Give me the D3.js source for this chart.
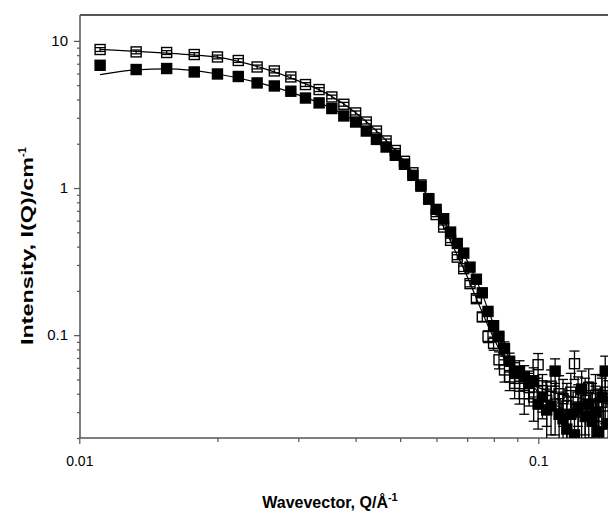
<!DOCTYPE html>
<html>
<head>
<meta charset="utf-8">
<script src="https://cdn.jsdelivr.net/npm/d3@7"></script>
<style>
  body { margin: 0; background: #fff; }
  svg { display: block; font-family: "Liberation Sans", Arial, sans-serif; }
</style>
</head>
<body>
<svg id="chart" width="608" height="511"></svg>
<script>
// wavevector grid (1/A)
const qValues = [0.0111, 0.0133, 0.0155, 0.0178, 0.0200, 0.0222, 0.0244, 0.0266, 0.0289, 0.0311,
  0.0333, 0.0355, 0.0377, 0.0400, 0.0422, 0.0444, 0.0466, 0.0488, 0.0511, 0.0533,
  0.0555, 0.0577, 0.0599, 0.0622, 0.0644, 0.0666, 0.0688, 0.0710, 0.0733, 0.0755,
  0.0777, 0.0799, 0.0821, 0.0844, 0.0866, 0.0888, 0.0910, 0.0932, 0.0955, 0.0977,
  0.0999, 0.1021, 0.1043, 0.1066, 0.1088, 0.1110, 0.1132, 0.1154, 0.1177, 0.1199,
  0.1221, 0.1243, 0.1265, 0.1288, 0.1310, 0.1332, 0.1354, 0.1376, 0.1399, 0.1421];

// open squares
const openI = [8.74, 8.42, 8.34, 8.08, 7.78, 7.36, 6.65, 6.25, 5.69, 5.05,
  4.67, 4.16, 3.71, 3.24, 2.81, 2.44, 2.09, 1.80, 1.52, 1.27,
  1.05, 0.84, 0.66, 0.543, 0.441, 0.339, 0.283, 0.224, 0.177, 0.133,
  0.098, 0.088, 0.068, 0.058, 0.052, 0.047, 0.045, 0.040, 0.044, 0.038,
  0.063, 0.042, 0.036, 0.045, 0.034, 0.040, 0.037, 0.033, 0.041, 0.064,
  0.038, 0.030, 0.036, 0.044, 0.032, 0.039, 0.028, 0.035, 0.041, 0.033];
const openErr = [0.26, 0.25, 0.25, 0.24, 0.23, 0.22, 0.2, 0.19, 0.17, 0.15,
  0.14, 0.12, 0.11, 0.1, 0.085, 0.073, 0.063, 0.054, 0.046, 0.038,
  0.032, 0.026, 0.021, 0.018, 0.015, 0.013, 0.012, 0.011, 0.01, 0.009,
  0.009, 0.009, 0.009, 0.01, 0.01, 0.01, 0.011, 0.011, 0.011, 0.012,
  0.012, 0.012, 0.012, 0.013, 0.013, 0.013, 0.013, 0.014, 0.014, 0.014,
  0.014, 0.014, 0.015, 0.015, 0.015, 0.015, 0.015, 0.016, 0.016, 0.016];

// filled squares
const filledI = [6.83, 6.39, 6.49, 6.15, 5.96, 5.73, 5.18, 4.94, 4.55, 4.09,
  3.79, 3.47, 3.09, 2.81, 2.44, 2.14, 1.90, 1.67, 1.45, 1.22,
  1.03, 0.847, 0.716, 0.619, 0.502, 0.420, 0.361, 0.290, 0.240, 0.194,
  0.145, 0.116, 0.098, 0.081, 0.0665, 0.056, 0.057, 0.052, 0.047, 0.049,
  0.034, 0.038, 0.031, 0.033, 0.057, 0.029, 0.027, 0.023, 0.029, 0.021,
  0.032, 0.043, 0.028, 0.034, 0.026, 0.030, 0.022, 0.038, 0.057, 0.025];
const filledErr = [0.2, 0.19, 0.19, 0.18, 0.18, 0.17, 0.16, 0.15, 0.14, 0.12,
  0.11, 0.1, 0.09, 0.085, 0.073, 0.064, 0.057, 0.05, 0.044, 0.037,
  0.031, 0.025, 0.021, 0.019, 0.015, 0.013, 0.011, 0.01, 0.009, 0.008,
  0.008, 0.008, 0.008, 0.009, 0.009, 0.009, 0.01, 0.01, 0.01, 0.011,
  0.011, 0.011, 0.012, 0.012, 0.012, 0.012, 0.013, 0.013, 0.013, 0.013,
  0.014, 0.014, 0.014, 0.014, 0.014, 0.015, 0.015, 0.015, 0.015, 0.015];

// model fits
const fitQ = [0.0111, 0.0133, 0.0155, 0.02, 0.025, 0.03, 0.035, 0.04, 0.045, 0.05,
  0.055, 0.06, 0.065, 0.07, 0.075, 0.08, 0.085, 0.09, 0.095, 0.1,
  0.11, 0.12, 0.13, 0.142];
const fitOpen = [8.75, 8.5, 8.25, 7.75, 6.55, 5.35, 4.3, 3.25, 2.35, 1.65,
  1.1, 0.68, 0.41, 0.25, 0.15, 0.095, 0.066, 0.053, 0.047, 0.044,
  0.040, 0.038, 0.036, 0.034];
const fitFilled = [5.9, 6.35, 6.45, 5.96, 5.12, 4.3, 3.55, 2.81, 2.06, 1.55,
  1.07, 0.71, 0.48, 0.32, 0.20, 0.118, 0.078, 0.058, 0.049, 0.041,
  0.033, 0.029, 0.027, 0.025];

const xTicks = [0.01, 0.1];
const yTicks = [0.1, 1, 10];

const svg = d3.select("#chart");
const m = { left: 80, top: 15, bottom: 438 };
const frame = "#555";

const x = d3.scaleLog().domain([0.01, 0.1]).range([79.3, 538.3]);
const y = d3.scaleLog().domain([0.02, 15]).range([m.bottom, m.top]);

svg.append("defs").append("clipPath").attr("id", "clip")
  .append("rect").attr("x", m.left).attr("y", m.top)
  .attr("width", 608 - m.left).attr("height", m.bottom - m.top);

// axes
const minorX = d3.range(2, 10).map(d => d * 0.01).concat([0.2]);
const xAxis = svg.append("g").attr("transform", `translate(0,${m.bottom})`)
  .call(d3.axisBottom(x).tickValues(xTicks).tickFormat(d3.format("")).tickSize(6).tickPadding(12));
svg.append("g").attr("transform", `translate(0,${m.bottom})`)
  .call(d3.axisBottom(x).tickValues(minorX).tickFormat("").tickSize(4))
  .call(g => g.select(".domain").remove());

const minorY = [0.02, 0.03, 0.04, 0.05, 0.06, 0.07, 0.08, 0.09,
  0.2, 0.3, 0.4, 0.5, 0.6, 0.7, 0.8, 0.9, 2, 3, 4, 5, 6, 7, 8, 9];
const yAxis = svg.append("g").attr("transform", `translate(${m.left},0)`)
  .call(d3.axisLeft(y).tickValues(yTicks).tickFormat(d3.format("")).tickSize(6).tickPadding(6));
svg.append("g").attr("transform", `translate(${m.left},0)`)
  .call(d3.axisLeft(y).tickValues(minorY).tickFormat("").tickSize(3))
  .call(g => g.select(".domain").remove());

svg.selectAll(".domain").attr("stroke", frame).attr("stroke-width", 1.5);
svg.selectAll(".tick line").attr("stroke", frame).attr("stroke-width", 1.2);
xAxis.selectAll("text").attr("font-size", 14).attr("fill", "#000");
yAxis.selectAll("text").attr("font-size", 15).attr("fill", "#000");
xAxis.select(".domain").attr("d", `M${m.left},0H608`);
yAxis.select(".domain").attr("d", `M0,${m.bottom}V${m.top}`);

// top frame line
svg.append("line")
  .attr("x1", m.left).attr("x2", 608).attr("y1", m.top).attr("y2", m.top)
  .attr("stroke", frame).attr("stroke-width", 2);

// plot contents
const plot = svg.append("g").attr("clip-path", "url(#clip)");
const line = d3.line().x(d => x(d[0])).y(d => y(d[1])).curve(d3.curveMonotoneX);

plot.append("path").datum(fitQ.map((q, i) => [q, fitOpen[i]]))
  .attr("d", line).attr("fill", "none").attr("stroke", "#000").attr("stroke-width", 1.2);
plot.append("path").datum(fitQ.map((q, i) => [q, fitFilled[i]]))
  .attr("d", line).attr("fill", "none").attr("stroke", "#000").attr("stroke-width", 1.2);

const s = 10;
function drawSeries(vals, errs, filled) {
  const data = qValues.map((q, i) => ({ q: q, v: vals[i], e: errs[i] }));
  const g = plot.append("g");
  const eb = g.append("g").attr("stroke", "#000").attr("stroke-width", 1.3);
  data.forEach(d => {
    const cx = x(d.q), y1 = y(d.v + d.e), y2 = y(Math.max(d.v - d.e, 0.001));
    eb.append("line").attr("x1", cx).attr("x2", cx).attr("y1", y1).attr("y2", y2);
    eb.append("line").attr("x1", cx - s / 2).attr("x2", cx + s / 2).attr("y1", y1).attr("y2", y1);
    eb.append("line").attr("x1", cx - s / 2).attr("x2", cx + s / 2).attr("y1", y2).attr("y2", y2);
  });
  g.selectAll("rect")
    .data(data)
    .enter()
    .append("rect")
    .attr("x", d => x(d.q) - s / 2)
    .attr("y", d => y(d.v) - s / 2)
    .attr("width", s)
    .attr("height", s)
    .style("fill", filled ? "#000" : "none")
    .style("stroke", "#000")
    .style("stroke-width", 1.4);
}
drawSeries(openI, openErr, false);
drawSeries(filledI, filledErr, true);

// axis titles
const xt = svg.append("text")
  .attr("x", 330).attr("y", 508)
  .attr("text-anchor", "middle")
  .attr("font-size", 16).attr("font-weight", "bold");
xt.append("tspan").text("Wavevector, Q/Å");
xt.append("tspan").attr("dy", -7).attr("font-size", 11).text("-1");

const yt = svg.append("text")
  .attr("transform", "translate(33,345) rotate(-90)")
  .attr("font-size", 16).attr("font-weight", "bold");
yt.append("tspan").attr("textLength", 188).attr("lengthAdjust", "spacingAndGlyphs")
  .text("Intensity, I(Q)/cm");
yt.append("tspan").attr("dy", -7).attr("font-size", 11).text("-1");
</script>
</body>
</html>
